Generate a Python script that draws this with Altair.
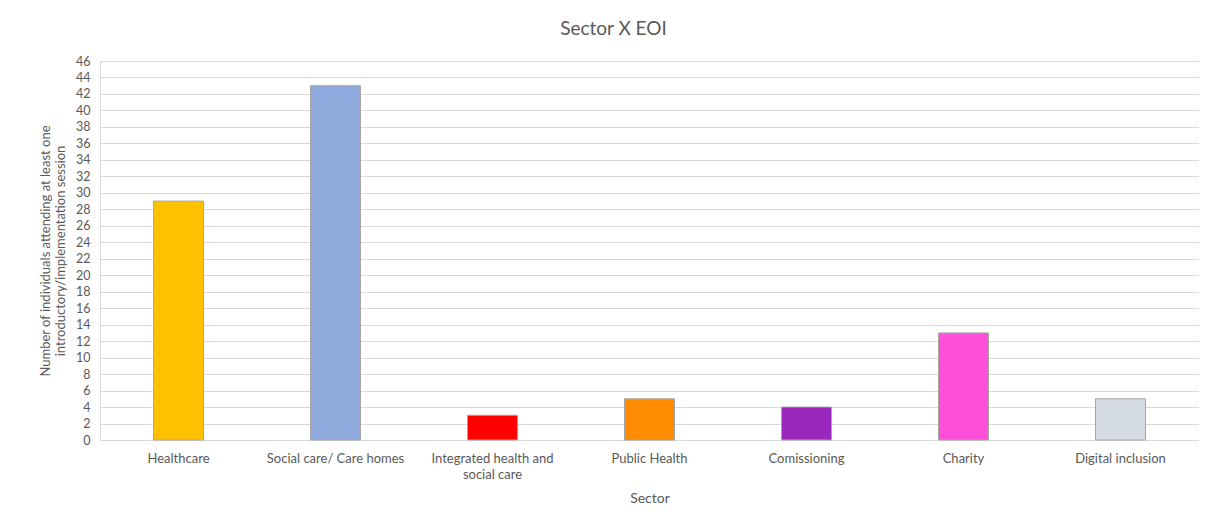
import altair as alt
import pandas as pd

sectors = ["Healthcare", "Social care/ Care homes", "Integrated health and social care",
           "Public Health", "Comissioning", "Charity", "Digital inclusion"]
values = [29, 43, 3, 5, 4, 13, 5]
colors = ["#FFC000", "#8FAADC", "#FF0000", "#FF8C00", "#9A28BE", "#FF4FD8", "#D6DCE5"]

df = pd.DataFrame({"Sector": sectors, "Value": values})

FONT = "Lato"
TXT = "#595959"

bars = alt.Chart(df).mark_bar(size=50, stroke="#A6A6A6", strokeWidth=1).encode(
    x=alt.X("Sector:N", sort=sectors, title="Sector",
            scale=alt.Scale(paddingInner=0, paddingOuter=0),
            axis=alt.Axis(labelAngle=0, labelFont=FONT, labelFontSize=13, labelColor=TXT,
                          titleFont=FONT, titleFontSize=14, titleColor=TXT, titleFontWeight="normal",
                          titlePadding=10, labelPadding=12, ticks=False, domainColor="#D9D9D9",
                          labelLineHeight=16,
                          labelExpr="datum.label == 'Integrated health and social care' ? ['Integrated health and', 'social care'] : datum.label")),
    y=alt.Y("Value:Q", scale=alt.Scale(domain=[0, 46]),
            title=["Number of individuals attending at least one", "introductory/implementation session"],
            axis=alt.Axis(values=list(range(0, 47, 2)), labelFont=FONT, labelFontSize=12.5, labelColor=TXT,
                          titleFont=FONT, titleFontSize=13, titleColor=TXT, titleFontWeight="normal",
                          ticks=False, domain=False, gridColor="#D9D9D9", labelPadding=10,
                          titlePadding=8, titleLineHeight=15)),
    color=alt.Color("Sector:N", sort=sectors, scale=alt.Scale(domain=sectors, range=colors), legend=None),
)

chart = bars.properties(
    width=1099, height=379,
    title=alt.Title("Sector X EOI", font=FONT, fontSize=19, color=TXT, fontWeight="normal",
                    anchor="middle", offset=16, dx=-36),
    autosize=alt.AutoSizeParams(type="none"),
    padding={"left": 92, "top": 53, "right": 0, "bottom": 74},
).configure_view(stroke=None).configure(background="white")

chart.save("out.html", embed_options={"renderer": "svg", "actions": False})
